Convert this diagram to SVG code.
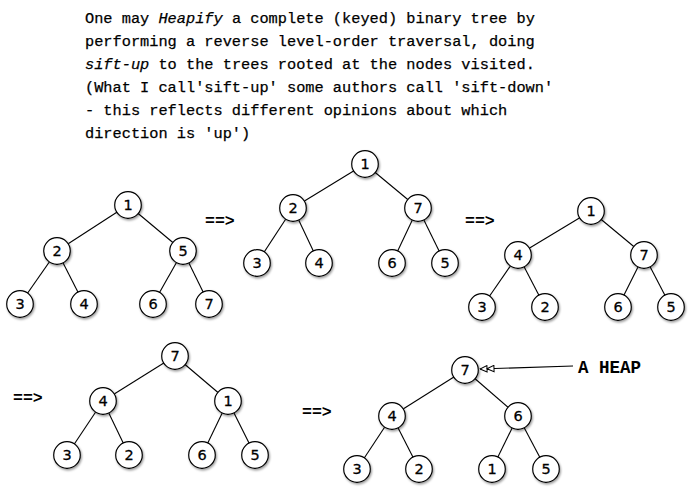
<svg xmlns="http://www.w3.org/2000/svg" width="693" height="489" viewBox="0 0 693 489">
<defs>
<filter id="sh" x="-30%" y="-30%" width="170%" height="170%">
<feDropShadow dx="1" dy="1.5" stdDeviation="1" flood-color="#000" flood-opacity="0.4"/>
</filter>
<marker id="dbl" viewBox="0 0 16 8" refX="15.5" refY="4" markerWidth="16" markerHeight="8" markerUnits="userSpaceOnUse" orient="auto">
<path d="M15.5,4 L8.5,0.8 L8.5,7.2 Z M8.5,4 L1.5,0.8 L1.5,7.2 Z" fill="#fff" stroke="#000" stroke-width="1"/>
</marker>
<style>
.body{font-family:"Liberation Mono","DejaVu Sans Mono",monospace;font-size:15.3px;fill:#000;stroke:#000;stroke-width:0.25}
.arr{font-family:"Liberation Mono","DejaVu Sans Mono",monospace;font-size:16.5px;font-weight:bold;fill:#000}
.heap{font-family:"Liberation Mono","DejaVu Sans Mono",monospace;font-size:17.5px;font-weight:bold;fill:#000}
.node circle{fill:#fff;stroke:#000;stroke-width:1.2;filter:url(#sh)}
.node text{font-family:"DejaVu Sans","Liberation Sans",sans-serif;font-size:14.5px;font-weight:500;text-anchor:middle;fill:#000;stroke:#000;stroke-width:0.3}
#edges line{stroke:#000;stroke-width:1.1}
</style>
</defs>
<rect width="693" height="489" fill="#fff"/>
<g id="caption">
<text class="body" x="85" y="23">One may <tspan font-style="italic">Heapify</tspan> a complete (keyed) binary tree by</text>
<text class="body" x="85" y="46">performing a reverse level-order traversal, doing</text>
<text class="body" x="85" y="69"><tspan font-style="italic">sift-up</tspan> to the trees rooted at the nodes visited.</text>
<text class="body" x="85" y="92">(What I call'sift-up' some authors call 'sift-down'</text>
<text class="body" x="85" y="115">- this reflects different opinions about which</text>
<text class="body" x="85" y="138">direction is 'up')</text>
</g>
<g id="arrows-text">
<text class="arr" x="205" y="226">==&gt;</text>
<text class="arr" x="465" y="226">==&gt;</text>
<text class="arr" x="13" y="403">==&gt;</text>
<text class="arr" x="302" y="417">==&gt;</text>
</g>
<g id="edges">
<line x1="128" y1="205" x2="57" y2="251"/><line x1="128" y1="205" x2="183" y2="251"/>
<line x1="57" y1="251" x2="20" y2="304"/><line x1="57" y1="251" x2="84" y2="304"/>
<line x1="183" y1="251" x2="153" y2="304"/><line x1="183" y1="251" x2="209" y2="304"/>
<line x1="365" y1="164" x2="293" y2="208"/><line x1="365" y1="164" x2="418" y2="208"/>
<line x1="293" y1="208" x2="257" y2="263"/><line x1="293" y1="208" x2="319" y2="263"/>
<line x1="418" y1="208" x2="392" y2="263"/><line x1="418" y1="208" x2="445" y2="263"/>
<line x1="591" y1="211" x2="518" y2="255"/><line x1="591" y1="211" x2="644" y2="255"/>
<line x1="518" y1="255" x2="482" y2="307"/><line x1="518" y1="255" x2="545" y2="307"/>
<line x1="644" y1="255" x2="618" y2="307"/><line x1="644" y1="255" x2="671" y2="307"/>
<line x1="175" y1="356" x2="103" y2="401"/><line x1="175" y1="356" x2="228" y2="401"/>
<line x1="103" y1="401" x2="67" y2="455"/><line x1="103" y1="401" x2="129" y2="455"/>
<line x1="228" y1="401" x2="202" y2="455"/><line x1="228" y1="401" x2="255" y2="455"/>
<line x1="465" y1="370" x2="392" y2="416"/><line x1="465" y1="370" x2="518" y2="416"/>
<line x1="392" y1="416" x2="357" y2="469"/><line x1="392" y1="416" x2="419" y2="469"/>
<line x1="518" y1="416" x2="492" y2="469"/><line x1="518" y1="416" x2="546" y2="469"/>
<line x1="573" y1="366" x2="480" y2="369" marker-end="url(#dbl)"/>
</g>
<g id="t1">
<g class="node" id="t1n1"><circle cx="128" cy="205" r="13.3"/><text x="128" y="210">1</text></g>
<g class="node" id="t1n2"><circle cx="57" cy="251" r="13.3"/><text x="57" y="256">2</text></g>
<g class="node" id="t1n5"><circle cx="183" cy="251" r="13.3"/><text x="183" y="256">5</text></g>
<g class="node" id="t1n3"><circle cx="20" cy="304" r="13.3"/><text x="20" y="309">3</text></g>
<g class="node" id="t1n4"><circle cx="84" cy="304" r="13.3"/><text x="84" y="309">4</text></g>
<g class="node" id="t1n6"><circle cx="153" cy="304" r="13.3"/><text x="153" y="309">6</text></g>
<g class="node" id="t1n7"><circle cx="209" cy="304" r="13.3"/><text x="209" y="309">7</text></g>
</g>
<g id="t2">
<g class="node" id="t2n1"><circle cx="365" cy="164" r="13.3"/><text x="365" y="169">1</text></g>
<g class="node" id="t2n2"><circle cx="293" cy="208" r="13.3"/><text x="293" y="213">2</text></g>
<g class="node" id="t2n7"><circle cx="418" cy="208" r="13.3"/><text x="418" y="213">7</text></g>
<g class="node" id="t2n3"><circle cx="257" cy="263" r="13.3"/><text x="257" y="268">3</text></g>
<g class="node" id="t2n4"><circle cx="319" cy="263" r="13.3"/><text x="319" y="268">4</text></g>
<g class="node" id="t2n6"><circle cx="392" cy="263" r="13.3"/><text x="392" y="268">6</text></g>
<g class="node" id="t2n5"><circle cx="445" cy="263" r="13.3"/><text x="445" y="268">5</text></g>
</g>
<g id="t3">
<g class="node" id="t3n1"><circle cx="591" cy="211" r="13.3"/><text x="591" y="216">1</text></g>
<g class="node" id="t3n4"><circle cx="518" cy="255" r="13.3"/><text x="518" y="260">4</text></g>
<g class="node" id="t3n7"><circle cx="644" cy="255" r="13.3"/><text x="644" y="260">7</text></g>
<g class="node" id="t3n3"><circle cx="482" cy="307" r="13.3"/><text x="482" y="312">3</text></g>
<g class="node" id="t3n2"><circle cx="545" cy="307" r="13.3"/><text x="545" y="312">2</text></g>
<g class="node" id="t3n6"><circle cx="618" cy="307" r="13.3"/><text x="618" y="312">6</text></g>
<g class="node" id="t3n5"><circle cx="671" cy="307" r="13.3"/><text x="671" y="312">5</text></g>
</g>
<g id="t4">
<g class="node" id="t4n7"><circle cx="175" cy="356" r="13.3"/><text x="175" y="361">7</text></g>
<g class="node" id="t4n4"><circle cx="103" cy="401" r="13.3"/><text x="103" y="406">4</text></g>
<g class="node" id="t4n1"><circle cx="228" cy="401" r="13.3"/><text x="228" y="406">1</text></g>
<g class="node" id="t4n3"><circle cx="67" cy="455" r="13.3"/><text x="67" y="460">3</text></g>
<g class="node" id="t4n2"><circle cx="129" cy="455" r="13.3"/><text x="129" y="460">2</text></g>
<g class="node" id="t4n6"><circle cx="202" cy="455" r="13.3"/><text x="202" y="460">6</text></g>
<g class="node" id="t4n5"><circle cx="255" cy="455" r="13.3"/><text x="255" y="460">5</text></g>
</g>
<g id="t5">
<g class="node" id="t5n7"><circle cx="465" cy="370" r="13.3"/><text x="465" y="375">7</text></g>
<g class="node" id="t5n4"><circle cx="392" cy="416" r="13.3"/><text x="392" y="421">4</text></g>
<g class="node" id="t5n6"><circle cx="518" cy="416" r="13.3"/><text x="518" y="421">6</text></g>
<g class="node" id="t5n3"><circle cx="357" cy="469" r="13.3"/><text x="357" y="474">3</text></g>
<g class="node" id="t5n2"><circle cx="419" cy="469" r="13.3"/><text x="419" y="474">2</text></g>
<g class="node" id="t5n1"><circle cx="492" cy="469" r="13.3"/><text x="492" y="474">1</text></g>
<g class="node" id="t5n5"><circle cx="546" cy="469" r="13.3"/><text x="546" y="474">5</text></g>
</g>
<g id="label">
<text class="heap" x="578" y="373">A HEAP</text>
</g>
</svg>
